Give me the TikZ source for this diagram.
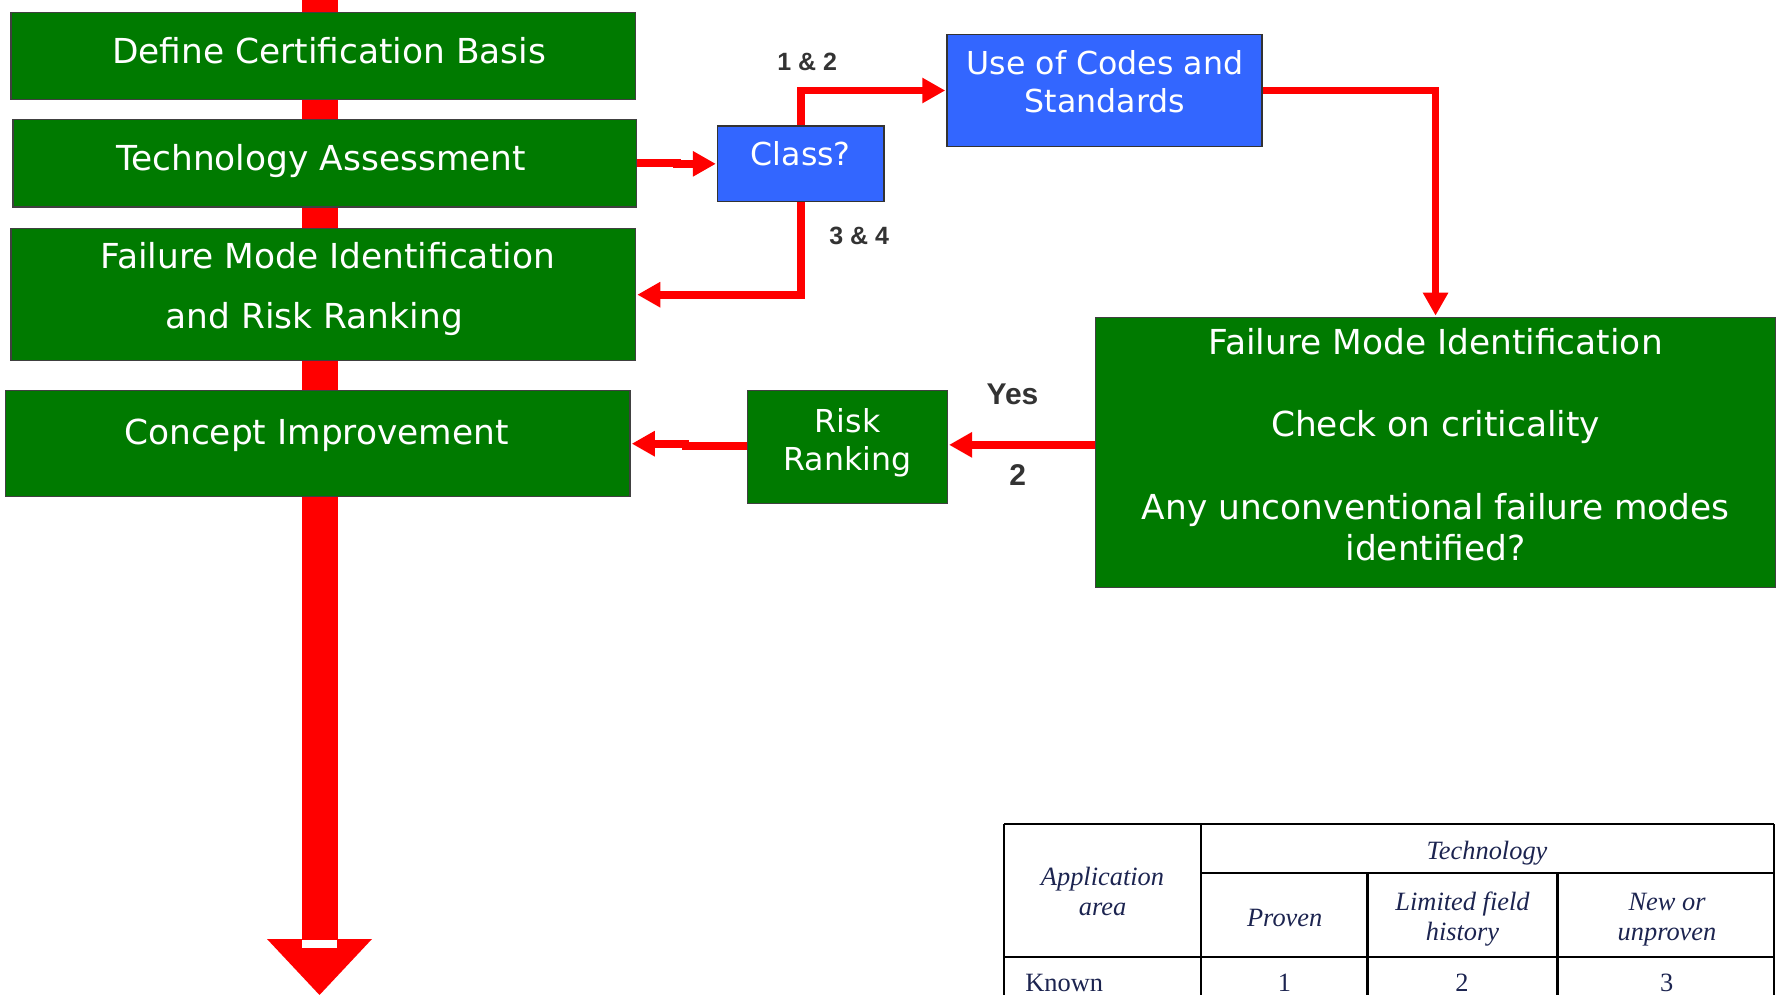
\documentclass[tikz,border=0pt]{standalone}
\usepackage{fontspec}
\setmainfont{DejaVu Sans}
\newfontfamily\labelfont{Liberation Sans}
\newfontfamily\tablefont{Liberation Serif}
\usetikzlibrary{arrows.meta,fit}

\definecolor{boxgreen}{RGB}{0,122,0}
\definecolor{boxblue}{RGB}{51,102,255}
\definecolor{flowred}{RGB}{255,0,0}
\definecolor{labelgray}{RGB}{51,51,51}
\definecolor{tabletext}{RGB}{28,36,80}

\begin{document}
\begin{tikzpicture}[x=0.5pt,y=-0.5pt,
  gbox/.style={draw=black!75, line width=0.75pt, fill=boxgreen, inner sep=0pt},
  bbox/.style={draw=black!80, line width=0.75pt, fill=boxblue, inner sep=0pt},
  bigtext/.style={anchor=base, inner sep=0pt, text=white, font=\fontsize{17.2}{20}\selectfont},
  smalltext/.style={anchor=base, inner sep=0pt, text=white, font=\fontsize{15.8}{19}\selectfont},
  tag/.style={anchor=base, inner sep=0pt, text=labelgray, font=\labelfont\bfseries\fontsize{12.5}{15}\selectfont},
  bigtag/.style={tag, font=\labelfont\bfseries\fontsize{15}{18}\selectfont},
  conn/.style={draw=flowred, line width=3.8pt, -{Triangle[length=11.5pt,width=12pt]}, shorten >=0.5pt},
  tline/.style={draw=black, line width=1.25pt},
  tabtext/.style={anchor=base, inner sep=0pt, text=tabletext, font=\tablefont\itshape\fontsize{13.2}{15}\selectfont},
  tabnum/.style={anchor=base, inner sep=0pt, text=tabletext, font=\tablefont\fontsize{13.2}{15}\selectfont}
]
\useasboundingbox (0,0) rectangle (1777,995);
\clip (0,0) rectangle (1777,995);

% main process spine
\fill[flowred] (301.5,-2) rectangle (337.5,940);
\fill[flowred] (267,939) -- (372,939) -- (319.5,995) -- cycle;
\fill[white] (302,940) rectangle (337,948);

% left column of process steps
\node[gbox, fit={(10.9,12.7) (635.5,99.7)}] (def) {};
\node[gbox, fit={(13.2,119.3) (636.5,207)}] (tech) {};
\node[gbox, fit={(11,228.7) (635.5,360.7)}] (fmil) {};
\node[gbox, fit={(5.7,390.7) (630,496.7)}] (concept) {};

\node[bigtext] (def-t) at (329.3,63.3) {Define Certification Basis};
\node[bigtext] (tech-t) at (321,170) {Technology Assessment};
\node[bigtext] (fmil-t1) at (327.8,268.3) {Failure Mode Identification};
\node[bigtext] (fmil-t2) at (314.3,328.3) {and Risk Ranking};
\node[bigtext] (concept-t) at (316.5,444) {Concept Improvement};

% decision and branch boxes
\node[bbox, fit={(717.6,126) (884,201.7)}] (class) {};
\node[smalltext] (class-t) at (800.8,165.7) {Class?};

\node[bbox, fit={(947,34.4) (1261.8,146.6)}] (codes) {};
\node[smalltext] (codes-t1) at (1105,74.6) {Use of Codes and};
\node[smalltext] (codes-t2) at (1105,112.9) {Standards};

\node[gbox, fit={(1095.6,317.4) (1775.5,587.5)}] (fmir) {};
\node[bigtext] (fmir-t1) at (1435.6,354) {Failure Mode Identification};
\node[bigtext] (fmir-t2) at (1435.6,436.3) {Check on criticality};
\node[bigtext] (fmir-t3) at (1435.6,519.4) {Any unconventional failure modes};
\node[bigtext] (fmir-t4) at (1435.6,560.7) {identified?};

\node[gbox, fit={(747.4,390.7) (947.3,503.3)}] (risk) {};
\node[smalltext] (risk-t1) at (847.7,432.4) {Risk};
\node[smalltext] (risk-t2) at (847.3,470.6) {Ranking};

% connectors
\draw[conn] (tech.east) -- ++(40,0) |- (class.west);
\draw[conn] (class.north) |- (codes.west);
\draw[conn] (class.south) |- (fmil.east);
\draw[conn] (codes.east) -| (fmir.north);
\coordinate (fmiout) at ([yshift=3.8pt]fmir.west);
\draw[conn] (fmiout) -- (fmiout -| risk.east);
\draw[conn] ([yshift=0.6pt]risk.west) -- ++(-61,0) |- (concept.east);

% branch labels
\node[tag] (l12) at (807.2,71) {1 \& 2};
\node[tag] (l34) at (859.2,244) {3 \& 4};
\node[bigtag] (lyes) at (1012.5,404.3) {Yes};
\node[bigtag] (ltwo) at (1017.8,485) {2};

% technology classification table
\draw[tline] (1004,824) -- (1774,824);
\draw[tline] (1004,824) -- (1004,1000);
\draw[tline] (1774,824) -- (1774,1000);
\draw[tline] (1200.8,824) -- (1200.8,1000);
\draw[tline] (1200.8,873) -- (1774,873);
\draw[tline] (1367.5,873) -- (1367.5,1000);
\draw[tline] (1557.3,873) -- (1557.3,1000);
\draw[tline] (1004,957) -- (1774,957);

\node[tabtext] (th-tech) at (1487,859) {Technology};
\node[tabtext] (th-app1) at (1102.5,885) {Application};
\node[tabtext] (th-app2) at (1102.5,915) {area};
\node[tabtext] (th-prov) at (1284.7,926.7) {Proven};
\node[tabtext] (th-lim1) at (1462.5,910.7) {Limited field};
\node[tabtext] (th-lim2) at (1462.5,940) {history};
\node[tabtext] (th-new1) at (1667,910.7) {New or};
\node[tabtext] (th-new2) at (1667,940) {unproven};
\node[tabnum, anchor=base west] (td-known) at (1025,991.7) {Known};
\node[tabnum] (td-1) at (1284.5,991.7) {1};
\node[tabnum] (td-2) at (1462,991.7) {2};
\node[tabnum] (td-3) at (1666.7,991.7) {3};
\end{tikzpicture}
\end{document}
